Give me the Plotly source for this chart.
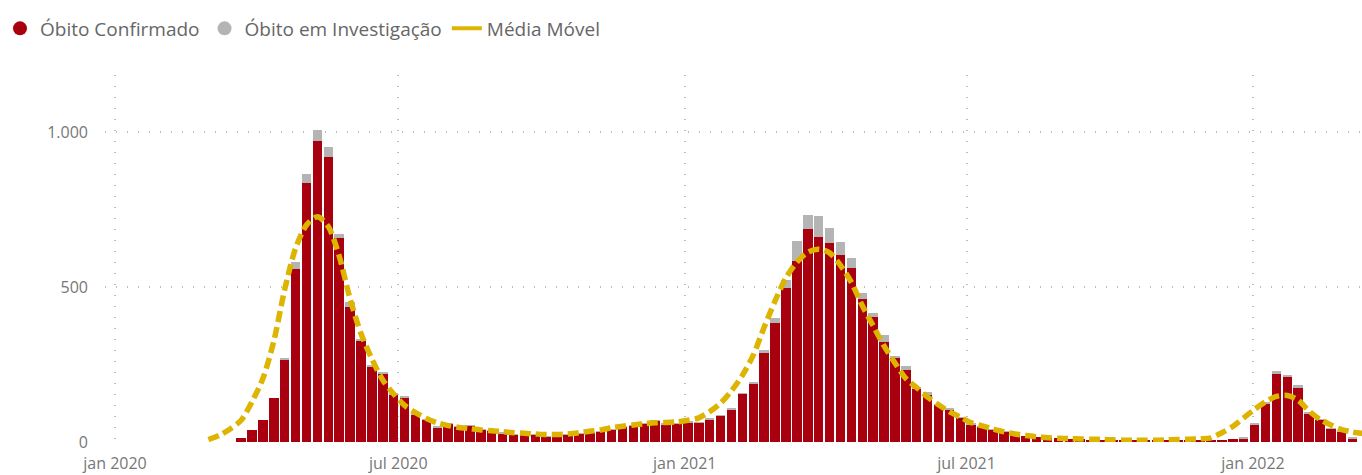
import pandas as pd
import plotly.graph_objects as go

# ---- data (weekly) ----
first_week = "2020-03-22"
confirmed = [12, 39, 71, 141, 267, 557, 834, 972, 920, 657,
             437, 327, 243, 218, 153, 144, 90, 72, 48, 60,
             49, 53, 40, 37, 29, 23, 28, 23, 17, 23,
             23, 28, 31, 33, 39, 49, 52, 60, 68, 58,
             60, 64, 62, 74, 85, 106, 155, 189, 286, 383,
             496, 584, 686, 662, 641, 603, 560, 460, 403, 324,
             270, 232, 173, 152, 120, 105, 78, 58, 50, 40,
             33, 28, 20, 17, 14, 12, 10, 9, 8, 7,
             6, 6, 5, 5, 5, 5, 5, 6, 6, 7,
             8, 10, 12, 55, 125, 219, 209, 173, 92, 71,
             44, 33, 12]
investigation = [0, 0, 0, 0, 2, 25, 30, 34, 33, 14,
                 16, 3, 3, 8, 3, 4, 1, 1, 1, 1,
                 1, 1, 1, 1, 1, 1, 1, 1, 1, 1,
                 1, 1, 1, 1, 1, 1, 1, 1, 1, 1,
                 1, 1, 1, 1, 1, 2, 2, 3, 11, 16,
                 27, 64, 46, 67, 48, 41, 33, 22, 13, 20,
                 8, 13, 3, 10, 2, 2, 1, 1, 1, 1,
                 1, 1, 0, 0, 0, 0, 0, 0, 0, 0,
                 0, 0, 0, 0, 0, 0, 0, 0, 0, 0,
                 0, 0, 1, 4, 3, 11, 7, 11, 2, 1,
                 1, 1, 1]
ma_first_week = "2020-03-01"
moving_avg = [8, 22, 42, 70, 130, 205, 325, 492, 625, 700,
              727, 695, 600, 462, 350, 268, 200, 155, 118, 95,
              76, 62, 53, 47, 43, 39, 36, 33, 30, 28,
              26, 24, 24, 26, 30, 35, 39, 46, 51, 55,
              59, 62, 63, 65, 70, 78, 98, 125, 165, 215,
              280, 370, 455, 530, 580, 612, 622, 610, 570, 515,
              440, 375, 310, 255, 205, 175, 145, 120, 98, 80,
              62, 52, 42, 33, 26, 21, 17, 14, 12, 11,
              10, 9, 8, 7, 6, 6, 6, 6, 7, 8,
              9, 10, 13, 30, 50, 78, 105, 130, 147, 150,
              135, 100, 73, 55, 40, 32, 28]
tick_dates = ["2020-01-01", "2020-07-01", "2021-01-01", "2021-07-01", "2022-01-01"]
tick_labels = ["jan 2020", "jul 2020", "jan 2021", "jul 2021", "jan 2022"]
y_ticks = [0, 500, 1000]

weeks = pd.date_range(first_week, periods=len(confirmed), freq="7D")
ma_weeks = pd.date_range(ma_first_week, periods=len(moving_avg), freq="7D")

RED = "#A8000F"
GRAY = "#B4B4B4"
GOLD = "#DDB400"
FONT = "Segoe UI, Open Sans, Noto Sans, sans-serif"
GRID = "#BDBDBD"

# pixel layout
W, H = 1362, 475
L, R, T, B = 105, 0, 75, 33
px_per_day = (1253 - 115) / 731.0
x0 = pd.Timestamp("2020-01-01") - pd.Timedelta(days=(115 - L) / px_per_day)
x1 = pd.Timestamp("2020-01-01") + pd.Timedelta(days=(W - R - 115) / px_per_day)
ymax = (H - B - T) / 0.31

bar_w = 6.1 * 86400000

fig = go.Figure()
fig.add_trace(go.Bar(x=weeks, y=confirmed, marker=dict(color=RED, line=dict(width=0)),
                     width=bar_w, name="Óbito Confirmado", showlegend=False))
fig.add_trace(go.Bar(x=weeks, y=investigation, marker=dict(color=GRAY, line=dict(width=0)),
                     width=bar_w, name="Óbito em Investigação", showlegend=False))
fig.add_trace(go.Scatter(x=ma_weeks, y=moving_avg, mode="lines",
                         line=dict(color=GOLD, width=5.5, dash="11px,5px", shape="spline", smoothing=0.8),
                         name="Média Móvel", showlegend=False))
# legend entries
fig.add_trace(go.Scatter(x=[None], y=[None], mode="markers",
                         marker=dict(color=RED, size=14, symbol="circle"), name="Óbito Confirmado"))
fig.add_trace(go.Scatter(x=[None], y=[None], mode="markers",
                         marker=dict(color=GRAY, size=14, symbol="circle"), name="Óbito em Investigação"))
fig.add_trace(go.Scatter(x=[None], y=[None], mode="lines",
                         line=dict(color=GOLD, width=4), name="Média Móvel"))

fig.update_layout(
    width=W, height=H,
    margin=dict(l=L, r=R, t=T, b=B),
    paper_bgcolor="white", plot_bgcolor="white",
    barmode="stack", bargap=0,
    separators=",.",
    font=dict(family=FONT, color="#666666", size=16),
    legend=dict(orientation="h", xref="container", yref="container",
                x=-0.01, y=0.98, xanchor="left", yanchor="top",
                traceorder="normal",
                font=dict(size=19, color="#666666"), itemwidth=30,
                tracegroupgap=0, bgcolor="rgba(0,0,0,0)"),
    xaxis=dict(type="date", range=[x0, x1], tickvals=tick_dates, ticktext=tick_labels,
               showgrid=True, gridcolor=GRID, griddash="1px,10px", gridwidth=1.5,
               showline=False, zeroline=False, ticks="", ticklabelstandoff=10,
               tickfont=dict(size=16, color="#777777")),
    yaxis=dict(range=[0, ymax], tickvals=y_ticks, separatethousands=True, tickformat=",d",
               showgrid=True, gridcolor=GRID, griddash="1px,10px", gridwidth=1.5,
               showline=False, zeroline=False, ticks="", ticklabelstandoff=16,
               tickfont=dict(size=16, color="#777777")),
)

fig.write_html("out.html", config={"displayModeBar": False},
               post_script="document.body.style.margin='0';")
